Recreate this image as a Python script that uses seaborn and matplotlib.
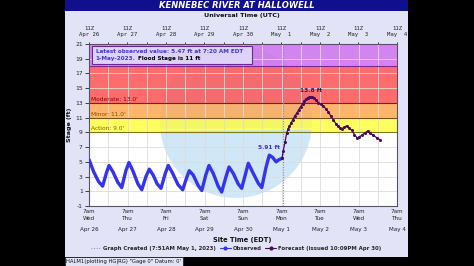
import numpy as np
import pandas as pd
import matplotlib
matplotlib.use("Agg")
import matplotlib.pyplot as plt
import seaborn as sns
from matplotlib.lines import Line2D
from matplotlib.patches import Rectangle, Polygon

sns.set_theme(style="white")
plt.rcParams['font.family'] = ['DejaVu Sans']

# ---------------- data (hours after Apr 26 7am EDT, stage in ft) ----------------
obs_hours = [0, 3, 6, 8.5, 11, 12.5, 15, 18, 20.4, 23, 24.9, 27.5, 30.5, 32.9, 35.5,
             37.6, 40, 42.5, 44.9, 47.5, 49.4, 52, 55.5, 58.4, 60.5, 62.5, 65, 68,
             70.3, 72.8, 74.8, 77.5, 80.5, 82.7, 85.3, 87.3, 90, 93, 95.2, 97.5,
             99.3, 102, 105.5, 107.7, 110.3, 112.4, 114.5, 116.6, 118.5, 120.3]
obs_stage = [5.3, 3.6, 2.3, 1.7, 3.6, 4.5, 3.6, 2.2, 1.5, 3.8, 4.9, 3.7, 2.0, 1.2, 3.0,
             4.0, 3.2, 2.0, 1.4, 3.4, 4.5, 3.5, 1.9, 1.2, 2.6, 3.8, 3.2, 1.8,
             1.1, 3.2, 4.5, 3.4, 1.7, 0.9, 2.9, 4.3, 3.4, 2.0, 1.4, 3.3,
             4.8, 3.6, 2.1, 1.5, 4.2, 5.91, 5.6, 5.0, 5.3, 5.47]
fc_hours = [120.3, 121.1, 122.2, 123.2, 124.0, 124.9, 126.0, 127.0, 128.2, 129.5, 130.8,
            132.0, 133.1, 134.2, 135.3, 136.3, 137.3, 138.2, 139.2, 140.3, 141.6, 142.9,
            144.5, 146.1, 147.6, 149.2, 150.8, 152.3, 153.8, 155.4, 156.5, 157.5, 159.1,
            160.7, 162.2, 163.8, 165.5, 167.3, 168.6, 170.0, 171.8, 173.7, 175.4, 177.2,
            179.3, 181.4]
fc_stage = [5.47, 6.5, 7.7, 8.9, 9.4, 9.8, 10.3, 10.7, 11.2, 11.6, 12.1,
            12.5, 12.9, 13.3, 13.5, 13.7, 13.75, 13.8, 13.75, 13.7, 13.4, 13.0,
            12.8, 12.6, 12.2, 11.8, 11.2, 10.7, 10.2, 9.8, 9.6, 9.5, 9.7,
            9.9, 9.6, 9.3, 8.7, 8.2, 8.4, 8.6, 8.9, 9.2, 8.9, 8.6,
            8.3, 8.0]

day_hours = [0, 24, 48, 72, 96, 120, 144, 168, 192]
half_day_hours = [12, 36, 60, 84, 108, 132, 156, 180]
bottom_times = ["7am"] * 9
bottom_days = ["Wed", "Thu", "Fri", "Sat", "Sun", "Mon", "Tue", "Wed", "Thu"]
bottom_dates = ["Apr 26", "Apr 27", "Apr 28", "Apr 29", "Apr 30", "May 1", "May 2", "May 3", "May 4"]
top_times = ["11Z"] * 9
top_dates = ["Apr 26", "Apr 27", "Apr 28", "Apr 29", "Apr 30", "May  1", "May  2", "May  3", "May  4"]
y_ticks = [-1, 1, 3, 5, 7, 9, 11, 13, 15, 17, 19, 21]

action_stage, minor_stage, moderate_stage, major_stage = 9.0, 11.0, 13.0, 18.0
created_hour = 120.85

# ---------------- figure ----------------
W, H = 474, 266
fig = plt.figure(figsize=(W / 100, H / 100), dpi=100, facecolor="black")
fig.patches.append(Rectangle((65 / W, 9 / H), 343 / W, 257 / H, transform=fig.transFigure,
                             facecolor="#e3e3f7", edgecolor="none", zorder=-2))
fig.patches.append(Rectangle((65 / W, 255.5 / H), 343 / W, 10.5 / H, transform=fig.transFigure,
                             facecolor="#10108c", edgecolor="none", zorder=-1))
fig.text(237 / W, 1 - 5.5 / H, "KENNEBEC RIVER AT HALLOWELL", color="white", fontsize=6,
         fontweight="bold", fontstyle="italic", ha="center", va="center")

ax = fig.add_axes([89 / W, 60 / H, 308 / W, 162 / H])
ax.set_facecolor("white")
ax.set_xlim(0, 192)
ax.set_ylim(-1, 21)

# flood category bands
ax.axhspan(major_stage, 21, color="#d284f0", zorder=1, lw=0)
ax.axhspan(moderate_stage, major_stage, color="#ff6c6c", zorder=1, lw=0)
ax.axhspan(minor_stage, moderate_stage, color="#ffb66c", zorder=1, lw=0)
ax.axhspan(action_stage, minor_stage, color="#ffff60", zorder=1, lw=0)

# watermark (decoration, axes-fraction coordinates)
cx, cy, rx, ry, cut = 0.477, 0.519, 0.247, 0.469, 0.47
t = np.linspace(0, 2 * np.pi, 240)
px, py = cx + rx * np.cos(t), cy + ry * np.sin(t)
mask = py <= cut
pts = np.column_stack([px[mask], py[mask]])
order = np.argsort(np.arctan2(pts[:, 1] - cy, pts[:, 0] - cx))
ax.add_patch(Polygon(pts[order], closed=True, transform=ax.transAxes,
                     facecolor="#bfe0f4", edgecolor="none", alpha=0.75, zorder=1.2))
ax.add_patch(Polygon(np.column_stack([px[~mask], py[~mask]]), closed=True, transform=ax.transAxes,
                     facecolor="#6070a0", edgecolor="none", alpha=0.06, zorder=1.2))

# level lines
for lev, col in [(major_stage, "#7a2a8a"), (moderate_stage, "#7a2020"),
                 (minor_stage, "#7a5020"), (action_stage, "#7a7a20")]:
    ax.axhline(lev, color=col, lw=0.8, zorder=1.6)

trans = ax.get_yaxis_transform()
ax.text(0.007, moderate_stage + 0.12, "Moderate: 13.0'", color="#8a0000", fontsize=4.2,
        transform=trans, va="bottom", ha="left", zorder=4)
ax.text(0.007, minor_stage + 0.12, "Minor: 11.0'", color="#8a4a00", fontsize=4.2,
        transform=trans, va="bottom", ha="left", zorder=4)
ax.text(0.007, action_stage + 0.12, "Action: 9.0'", color="#6a6a00", fontsize=4.2,
        transform=trans, va="bottom", ha="left", zorder=4)

# grid
ax.set_axisbelow("line")
ax.set_xticks(day_hours)
ax.set_xticks(half_day_hours, minor=True)
ax.set_yticks(y_ticks)
ax.grid(True, which="both", color="#dcdcdc", lw=0.6)

# series
obs_df = pd.DataFrame({"hour": obs_hours, "stage": obs_stage})
fc_df = pd.DataFrame({"hour": fc_hours, "stage": fc_stage})
sns.lineplot(data=obs_df, x="hour", y="stage", ax=ax, color="#3434ee", lw=2.4,
             solid_joinstyle="round", solid_capstyle="round", zorder=3)
sns.lineplot(data=fc_df, x="hour", y="stage", ax=ax, color="#4a0a5e", lw=0.9,
             marker="o", markersize=2.2, markeredgewidth=0, zorder=3.2)
ax.axvline(created_hour, color="#8a8ab0", ls=(0, (1, 1.3)), lw=0.8, zorder=2.8)

ipk = int(np.argmax(fc_stage))
ax.annotate(f"{fc_stage[ipk]:.1f} ft", (fc_hours[ipk], fc_stage[ipk]), xytext=(0, 3),
            textcoords="offset points", ha="center", va="bottom", color="#4a0a5e",
            fontsize=4.2, fontweight="bold", zorder=5)
iop = int(np.argmax(obs_stage))
ax.annotate(f"{obs_stage[iop]:.2f} ft", (obs_hours[iop], obs_stage[iop]), xytext=(0, 3.5),
            textcoords="offset points", ha="center", va="bottom", color="#3434cc",
            fontsize=4.2, fontweight="bold", zorder=5)

# latest value box
box = Rectangle((0.01, 0.875), 0.52, 0.11, transform=ax.transAxes, facecolor="#ded2f8",
                edgecolor="#6a2a90", lw=0.8, zorder=5.5)
ax.add_patch(box)
ax.text(0.022, 0.955, "Latest observed value: 5.47 ft at 7:20 AM EDT",
        transform=ax.transAxes, color="#3a3ad0", fontsize=4.1, fontweight="bold",
        va="center", ha="left", zorder=6)
t2 = ax.text(0.022, 0.91, "1-May-2023.", transform=ax.transAxes, color="#3a3ad0",
             fontsize=4.1, fontweight="bold", va="center", ha="left", zorder=6)
ax.annotate(" Flood Stage is 11 ft", xy=(1.0, 0.5), xycoords=t2, color="black",
            fontsize=4.1, fontweight="bold", va="center", ha="left", zorder=7)

# axes labels/ticks
ax.set_xlabel("")
ax.set_ylabel("")
ax.set_xticklabels([f"{a}\n{b}" for a, b in zip(bottom_times, bottom_days)],
                   fontsize=4.1, linespacing=1.45)
for h, d in zip(day_hours, bottom_dates):
    ax.text(h, -0.148, d, transform=ax.get_xaxis_transform(), ha="center", va="center",
            fontsize=4.1, color="#222222")
ax.set_yticklabels([str(v) for v in y_ticks], fontsize=4.3)
ax.tick_params(axis="x", which="both", direction="in", length=2.5, width=0.6, pad=2,
               colors="#222222", top=False)
ax.tick_params(axis="y", which="both", direction="out", length=3, width=0.6, pad=1.5,
               colors="#222222", left=True)
for s in ax.spines.values():
    s.set_color("#555566")
    s.set_linewidth(0.8)

top = ax.secondary_xaxis("top")
top.set_xticks(day_hours)
top.set_xticks(half_day_hours, minor=True)
top.set_xticklabels([f"{a}\n{b}" for a, b in zip(top_times, top_dates)], fontsize=4.1,
                    linespacing=1.15, family="DejaVu Sans Mono")
top.tick_params(axis="x", which="both", direction="inout", length=3, width=0.6, pad=3.5,
                colors="#222222")
top.spines["top"].set_visible(False)

fig.text(242 / W, 1 - 15 / H, "Universal Time (UTC)", ha="center", va="center",
         fontsize=4.6, fontweight="bold", color="#111111")
fig.text(242 / W, 1 - 240 / H, "Site Time (EDT)", ha="center", va="center",
         fontsize=4.8, fontweight="bold", color="#111111")
fig.text(69 / W, 1 - 125 / H, "Stage (ft)", ha="center", va="center", rotation=90,
         fontsize=4.6, fontweight="bold", color="#111111")

handles = [Line2D([], [], color="#9a9ac0", ls=(0, (1, 1.3)), lw=0.8),
           Line2D([], [], color="#3434ee", marker="o", ms=2, lw=0.8),
           Line2D([], [], color="#4a0a5e", marker="o", ms=2, lw=0.8)]
labels = ["Graph Created (7:51AM May 1, 2023)", "Observed", "Forecast (issued 10:09PM Apr 30)"]
fig.legend(handles, labels, loc="center", bbox_to_anchor=(236 / W, 1 - 248.5 / H), ncol=3,
           frameon=False, prop={"weight": "bold", "size": 3.9}, handlelength=2.0,
           columnspacing=0.7, handletextpad=0.35, borderaxespad=0)

fig.text(66.5 / W, 1 - 261.5 / H, "HALM1(plotting HG|RG) \"Gage 0\" Datum: 0'", ha="left",
         va="center", fontsize=3.8, color="#111111",
         bbox=dict(boxstyle="square,pad=0.25", facecolor="#e3e3f7", edgecolor="#222222", lw=0.6))

fig.savefig("out.png", dpi=100, facecolor="black")
